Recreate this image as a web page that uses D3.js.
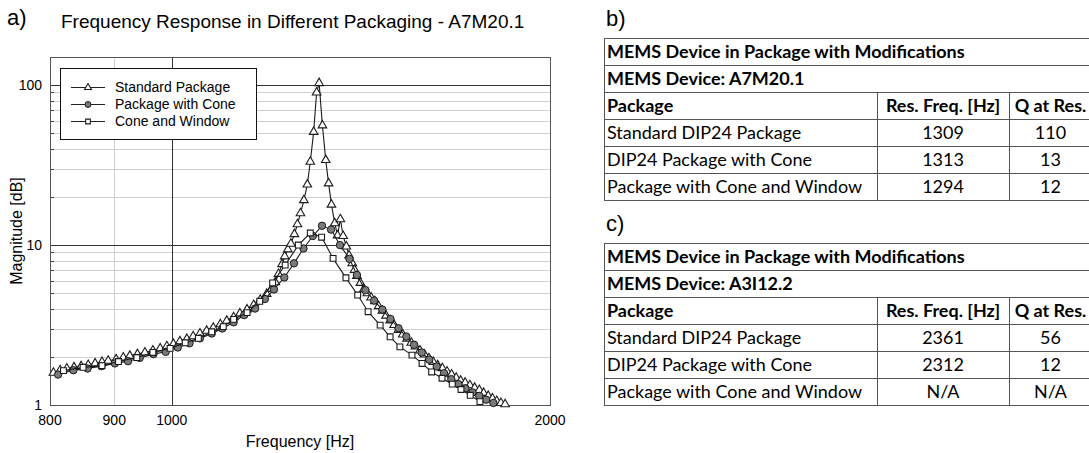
<!DOCTYPE html>
<html>
<head>
<meta charset="utf-8">
<script src="https://cdn.jsdelivr.net/npm/d3@7"></script>
<style>
  body { margin: 0; background: #fff; }
  svg { display: block; }
</style>
</head>
<body>
<div id="drawing"></div>
<script>
const width = 1089;
const height = 453;
const plot = {left: 50, right: 550, top: 57, bottom: 405};

// Standard Package (triangles)
const stdFreq = [805,815,825,836,847,858,869,880,890,903,915,926,939,952,966,979,991,1003,1015,1028,1040,1053,1066,1079,1093,1106,1120,1133,1148,1162,1176,1190,1201,1209,1216,1224,1230,1237,1244,1252,1259,1266,1274,1282,1289,1297,1304,1310,1318,1326,1333,1340,1348,1355,1362,1369,1377,1384,1392,1398,1404,1413,1422,1431,1441,1451,1461,1471,1481,1492,1503,1515,1527,1539,1551,1563,1576,1589,1602,1615,1628,1642,1656,1670,1684,1698,1712,1727,1742,1757,1771,1786,1800,1814,1828,1842];
const stdMag = [1.59,1.65,1.69,1.72,1.75,1.78,1.82,1.86,1.89,1.93,1.98,2.03,2.08,2.13,2.19,2.26,2.33,2.41,2.50,2.59,2.69,2.80,2.91,3.04,3.20,3.36,3.54,3.74,3.96,4.22,4.55,4.95,5.35,5.85,6.6,7.6,8.5,9.4,10.2,11.7,13.5,15.8,19.1,23.9,33.2,51,90,103,56,34,24.3,17.9,13.7,11.5,14.5,11.4,9.8,8.6,7.7,7.0,6.4,5.8,5.3,5.0,4.7,4.45,4.15,3.88,3.62,3.38,3.16,2.95,2.76,2.60,2.45,2.32,2.19,2.07,1.96,1.86,1.77,1.70,1.62,1.55,1.48,1.42,1.38,1.33,1.28,1.24,1.19,1.14,1.10,1.06,1.03,1.01];

// Package with Cone (circles)
const coneFreq = [812,835,857,879,901,923,943,967,989,1011,1033,1053,1076,1097,1120,1142,1165,1186,1206,1229,1251,1273,1295,1317,1339,1361,1385,1404,1426,1449,1471,1493,1515,1537,1559,1581,1603,1625,1647,1669,1691,1713,1735,1757,1779,1803];
const coneMag = [1.55,1.65,1.69,1.75,1.82,1.88,1.97,2.08,2.15,2.29,2.43,2.61,2.80,3.01,3.29,3.65,4.01,4.6,5.28,6.27,7.69,9.52,11.4,13.2,12.5,10.0,8.2,6.5,5.23,4.5,3.95,3.45,3.02,2.68,2.38,2.13,1.92,1.74,1.58,1.45,1.35,1.27,1.20,1.14,1.08,1.03];

// Cone and Window (squares)
const windowFreq = [820,850,880,907,938,966,997,1025,1050,1076,1099,1120,1148,1175,1203,1231,1261,1289,1316,1344,1376,1406,1433,1465,1492,1519,1553,1582,1610,1641,1672,1699,1728,1759];
const windowMag = [1.64,1.72,1.76,1.87,1.98,2.13,2.26,2.45,2.61,2.87,3.09,3.43,3.78,4.45,5.8,7.5,10.0,11.9,11.2,8.26,6.24,4.87,3.83,3.16,2.67,2.31,2.05,1.82,1.61,1.47,1.35,1.25,1.15,1.05];

const seriesNames = ["Standard Package", "Package with Cone", "Cone and Window"];
const xTicks = [800, 900, 1000, 2000];
const yTicks = [1, 10, 100];

// tables
const tableTitle = "MEMS Device in Package with Modifications";
const tableHeaders = ["Package", "Res. Freq. [Hz]", "Q at Res."];
const packages = ["Standard DIP24 Package", "DIP24 Package with Cone", "Package with Cone and Window"];
const devices = ["A7M20.1", "A3I12.2"];
const resFreqB = ["1309", "1313", "1294"];
const qB = ["110", "13", "12"];
const resFreqC = ["2361", "2312", "N/A"];
const qC = ["56", "12", "N/A"];

const chartFont = "'Liberation Sans', Arial, sans-serif";
const tableFont = "Lato, 'Open Sans', sans-serif";

let svg;

function setup(){
  svg = d3.select("#drawing").append("svg")
    .attr("width", width)
    .attr("height", height)
    .style("background", "#fff");
}

function makeChart(){
  const x = d3.scaleLog().domain([800, 2000]).range([plot.left, plot.right]);
  const y = d3.scaleLog().domain([1, 150]).range([plot.bottom, plot.top]);
  const g = svg.append("g");

  // minor horizontal grid
  const minors = [];
  for (const dec of [1, 10, 100]) {
    for (let k = 2; k <= 9; k++) {
      if (dec * k <= 150) minors.push(dec * k);
    }
  }
  g.selectAll(".hminor").data(minors).enter().append("line")
    .attr("x1", plot.left).attr("x2", plot.right)
    .attr("y1", d => Math.round(y(d)) + 0.5).attr("y2", d => Math.round(y(d)) + 0.5)
    .style("stroke", "#cfcfcf").style("stroke-width", 1);
  g.selectAll(".hminorTick").data(minors).enter().append("line")
    .attr("x1", plot.left).attr("x2", plot.left + 4)
    .attr("y1", d => Math.round(y(d)) + 0.5).attr("y2", d => Math.round(y(d)) + 0.5)
    .style("stroke", "#444").style("stroke-width", 1);

  // vertical grid
  g.append("line")
    .attr("x1", Math.round(x(900)) + 0.5).attr("x2", Math.round(x(900)) + 0.5)
    .attr("y1", plot.top).attr("y2", plot.bottom)
    .style("stroke", "#cfcfcf");
  g.append("line")
    .attr("x1", Math.round(x(1000)) + 0.5).attr("x2", Math.round(x(1000)) + 0.5)
    .attr("y1", plot.top).attr("y2", plot.bottom)
    .style("stroke", "#333");

  // major horizontal
  g.selectAll(".hmajor").data([10, 100]).enter().append("line")
    .attr("x1", plot.left).attr("x2", plot.right)
    .attr("y1", d => Math.round(y(d)) + 0.5).attr("y2", d => Math.round(y(d)) + 0.5)
    .style("stroke", "#333");

  // frame
  g.append("rect")
    .attr("x", plot.left + 0.5).attr("y", plot.top + 0.5)
    .attr("width", plot.right - plot.left).attr("height", plot.bottom - plot.top)
    .style("fill", "none").style("stroke", "#555");

  // tick labels
  g.selectAll(".ylab").data(yTicks).enter().append("text")
    .attr("x", 42).attr("y", d => y(d) + 5)
    .attr("text-anchor", "end")
    .style("font-family", chartFont).style("font-size", "14px")
    .text(d => d);
  g.selectAll(".xlab").data(xTicks).enter().append("text")
    .attr("x", d => x(d)).attr("y", 425)
    .attr("text-anchor", "middle")
    .style("font-family", chartFont).style("font-size", "14px")
    .text(d => d);

  // axis titles
  g.append("text")
    .attr("x", 300).attr("y", 447)
    .attr("text-anchor", "middle")
    .style("font-family", chartFont).style("font-size", "16px")
    .text("Frequency [Hz]");
  g.append("text")
    .attr("transform", "translate(22," + ((plot.top + plot.bottom) / 2) + ") rotate(-90)")
    .attr("text-anchor", "middle")
    .style("font-family", chartFont).style("font-size", "16px")
    .text("Magnitude [dB]");

  // title
  g.append("text")
    .attr("x", 7).attr("y", 25)
    .style("font-family", chartFont).style("font-size", "22px")
    .text("a)");
  g.append("text")
    .attr("x", 61).attr("y", 28)
    .style("font-family", chartFont).style("font-size", "19px")
    .text("Frequency Response in Different Packaging - A7M20.1");

  // series
  const series = [
    {name: seriesNames[0], pts: stdFreq.map((f, i) => [f, stdMag[i]]), shape: "triangle"},
    {name: seriesNames[1], pts: coneFreq.map((f, i) => [f, coneMag[i]]), shape: "circle"},
    {name: seriesNames[2], pts: windowFreq.map((f, i) => [f, windowMag[i]]), shape: "square"}
  ];
  const line = d3.line().x(d => x(d[0])).y(d => y(d[1]));

  series.forEach(s => {
    const sg = g.append("g");
    sg.append("path")
      .attr("d", line(s.pts))
      .style("fill", "none").style("stroke", "#1a1a1a").style("stroke-width", 1.1);
    drawMarkers(sg, s.pts.map(d => [x(d[0]), y(d[1])]), s.shape);
  });

  // legend
  const lg = g.append("g");
  lg.append("rect")
    .attr("x", 60.5).attr("y", 68.5).attr("width", 196).attr("height", 71)
    .style("fill", "#fff").style("stroke", "#111");
  series.forEach((s, i) => {
    const cy = 87 + i * 17;
    lg.append("line")
      .attr("x1", 71).attr("x2", 105).attr("y1", cy + 0.5).attr("y2", cy + 0.5)
      .style("stroke", "#222");
    drawMarkers(lg, [[88, cy + 0.5]], s.shape, 0.8);
    lg.append("text")
      .attr("x", 115).attr("y", cy + 5)
      .style("font-family", chartFont).style("font-size", "14px")
      .text(s.name);
  });
}

function drawMarkers(sel, pts, shape, scale = 1){
  if (shape === "circle") {
    sel.selectAll(null).data(pts).enter().append("circle")
      .attr("cx", d => d[0]).attr("cy", d => d[1]).attr("r", 3.7 * scale)
      .style("fill", "#7a7a7a").style("stroke", "#1a1a1a").style("stroke-width", 1);
  } else {
    const sym = shape === "triangle"
      ? d3.symbol().type(d3.symbolTriangle).size(32 * scale * scale)
      : d3.symbol().type(d3.symbolSquare).size(34 * scale * scale);
    sel.selectAll(null).data(pts).enter().append("path")
      .attr("d", sym)
      .attr("transform", d => "translate(" + d[0] + "," + d[1] + ")")
      .style("fill", "#fff").style("stroke", "#1a1a1a").style("stroke-width", 1.1);
  }
}

function makeTable(top, label, device, freqs, qs){
  const cols = [604, 877, 1009, 1092];
  const rowH = 27;
  const g = svg.append("g");

  // font size so the title spans the same width as the reference
  const probe = g.append("text").style("font-family", tableFont)
    .style("font-size", "19px").style("font-weight", "bold").text(tableTitle);
  const fs = 19 * 358 / probe.node().getComputedTextLength();
  probe.remove();

  g.append("text")
    .attr("x", 606).attr("y", top - 12)
    .style("font-family", chartFont).style("font-size", "22px")
    .text(label);

  const rows = [
    {cells: [tableTitle], bold: true},
    {cells: ["MEMS Device: " + device], bold: true},
    {cells: tableHeaders, bold: true}
  ];
  packages.forEach((p, i) => rows.push({cells: [p, freqs[i], qs[i]], bold: false}));

  rows.forEach((r, i) => {
    const y0 = top + i * rowH;
    r.cells.forEach((c, j) => {
      const t = g.append("text")
        .attr("y", y0 + rowH / 2 + fs * 0.36)
        .style("font-family", tableFont)
        .style("font-size", fs + "px")
        .style("font-weight", r.bold ? "bold" : "normal")
        .style("fill", "#000")
        .text(c);
      if (j === 0) {
        t.attr("x", cols[0] + 3);
      } else {
        t.attr("x", (cols[j] + cols[j + 1]) / 2).attr("text-anchor", "middle");
      }
    });
  });

  // horizontal rules
  d3.range(rows.length + 1).forEach(i => {
    g.append("line")
      .attr("x1", cols[0]).attr("x2", cols[3])
      .attr("y1", top + i * rowH + 0.5).attr("y2", top + i * rowH + 0.5)
      .style("stroke", "#555");
  });
  // outer verticals
  [cols[0], cols[3]].forEach(cx => {
    g.append("line")
      .attr("x1", cx + 0.5).attr("x2", cx + 0.5)
      .attr("y1", top).attr("y2", top + rows.length * rowH)
      .style("stroke", "#555");
  });
  // inner separators from the header row down
  [cols[1], cols[2]].forEach(cx => {
    g.append("line")
      .attr("x1", cx + 0.5).attr("x2", cx + 0.5)
      .attr("y1", top + 2 * rowH).attr("y2", top + rows.length * rowH)
      .style("stroke", "#555");
  });
}

setup();
makeChart();
makeTable(38, "b)", devices[0], resFreqB, qB);
makeTable(243, "c)", devices[1], resFreqC, qC);
</script>
</body>
</html>
